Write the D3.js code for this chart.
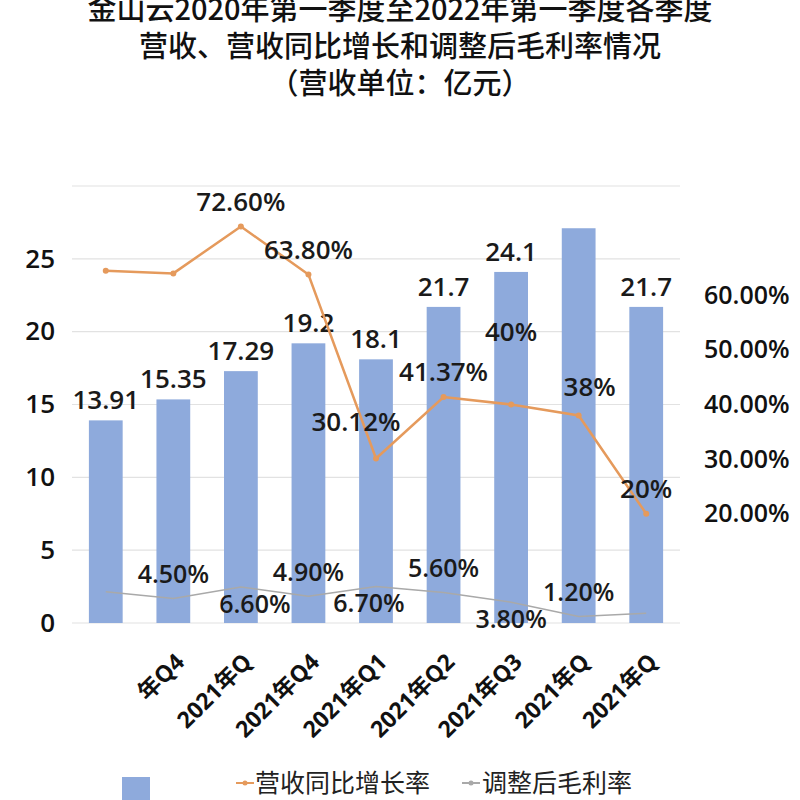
<!DOCTYPE html>
<html>
<head>
<meta charset="utf-8">
<script src="https://cdn.jsdelivr.net/npm/d3@7"></script>
<style>
  body { margin: 0; background: #fff; }
  text { font-family: "Open Sans", "Noto Sans", "Noto Sans CJK SC", sans-serif; }
</style>
</head>
<body>
<script>
// quarters 2020Q1 .. 2022Q1
const quarters = ["2020Q1", "2020Q2", "2020Q3", "2020Q4", "2021Q1", "2021Q2", "2021Q3", "2021Q4", "2022Q1"];
// tick labels as they appear in the picture (first one is cut off)
const tickLabels = ["", "年Q4", "2021年Q", "2021年Q4", "2021年Q1", "2021年Q2", "2021年Q3", "2021年Q", "2021年Q"];
// 营收 (亿元)
const revenue = [13.91, 15.35, 17.29, 19.2, 18.1, 21.7, 24.1, 27.1, 21.7];
const revenueLabels = ["13.91", "15.35", "17.29", "19.2", "18.1", "21.7", "24.1", "", "21.7"];
// 营收同比增长率
const growth = [0.645, 0.64, 0.726, 0.638, 0.3012, 0.4137, 0.40, 0.38, 0.20];
const growthLabels = ["", "", "72.60%", "63.80%", "30.12%", "41.37%", "40%", "38%", "20%"];
// 调整后毛利率
const margin = [0.057, 0.045, 0.066, 0.049, 0.067, 0.056, 0.038, 0.012, 0.018];
const marginLabels = ["", "4.50%", "6.60%", "4.90%", "6.70%", "5.60%", "3.80%", "1.20%", ""];
// axis ticks
const leftTicks = [0, 5, 10, 15, 20, 25];
const gridTicks = [0, 5, 10, 15, 20, 25, 30];
const rightTicks = [0.2, 0.3, 0.4, 0.5, 0.6];

const titleLines = ["金山云2020年第一季度至2022年第一季度各季度", "营收、营收同比增长和调整后毛利率情况", "（营收单位：亿元）"];

const width = 800, height = 800;
const barColor = "#8eaadc", lineColor = "#e59a5c", grayColor = "#a9a9a9";

const svg = d3.select("body").append("svg").attr("width", width).attr("height", height);

// title
svg.append("g").selectAll("text").data(titleLines).enter().append("text")
  .attr("x", 400).attr("y", (d, i) => [20, 57, 94][i])
  .attr("text-anchor", "middle")
  .style("font-family", "'Noto Sans CJK SC', sans-serif")
  .style("font-size", "29px")
  .style("font-weight", 500)
  .attr("fill", "#111").text(d => d);

// scales
const x = d3.scaleBand().domain(quarters).range([72, 680]).paddingInner(0.5).paddingOuter(0.25);
const y = d3.scaleLinear().domain([0, 30]).range([623, 186]);
const y2 = d3.scaleLinear().domain([0, 0.8]).range([623, 186]);
const cx = d => x(d) + x.bandwidth() / 2;

// gridlines
svg.append("g").selectAll("line").data(gridTicks).enter().append("line")
  .attr("x1", 72).attr("x2", 680).attr("y1", d => y(d)).attr("y2", d => y(d))
  .attr("stroke", "#e2e2e2").attr("stroke-width", 1.2);

// left axis
const leftAxis = svg.append("g").attr("transform", "translate(55,0)")
  .call(d3.axisLeft(y).tickValues(leftTicks).tickSize(0).tickPadding(0));
leftAxis.select(".domain").remove();
leftAxis.selectAll("text").style("font-size", "26px").style("font-weight", 600).attr("fill", "#111");

// right axis
const rightAxis = svg.append("g").attr("transform", "translate(704,0)")
  .call(d3.axisRight(y2).tickValues(rightTicks).tickSize(0).tickPadding(0).tickFormat(d3.format(".2%")));
rightAxis.select(".domain").remove();
rightAxis.selectAll("text").style("font-size", "25px").style("font-weight", 600).attr("fill", "#111");

// bars
svg.append("g").selectAll("rect").data(quarters).enter().append("rect")
  .attr("x", d => x(d)).attr("width", x.bandwidth())
  .attr("y", (d, i) => y(revenue[i])).attr("height", (d, i) => y(0) - y(revenue[i]))
  .attr("fill", barColor);

// bar labels
svg.append("g").selectAll("text").data(quarters).enter().append("text")
  .attr("x", d => cx(d)).attr("y", (d, i) => y(revenue[i]) - 11)
  .attr("text-anchor", "middle")
  .style("font-size", "26px").style("font-weight", 600).attr("fill", "#1a1a1a")
  .text((d, i) => revenueLabels[i]);

// x axis
const xAxis = svg.append("g").attr("transform", "translate(0,640)")
  .call(d3.axisBottom(x).tickSize(0).tickPadding(0).tickFormat((d, i) => tickLabels[i]));
xAxis.select(".domain").remove();
xAxis.selectAll("text")
  .attr("text-anchor", "end").attr("dy", "0.7em")
  .attr("transform", "translate(1,12) rotate(-45)")
  .style("font-size", "23px").style("font-weight", 700).attr("fill", "#111");

// lines
const lineFor = arr => d3.line().x(d => cx(d)).y((d, i) => y2(arr[i]));

svg.append("path").datum(quarters).attr("d", lineFor(margin))
  .attr("fill", "none").attr("stroke", grayColor).attr("stroke-width", 1.5);

svg.append("path").datum(quarters).attr("d", lineFor(growth))
  .attr("fill", "none").attr("stroke", lineColor).attr("stroke-width", 2.5);
svg.append("g").selectAll("circle").data(quarters).enter().append("circle")
  .attr("cx", d => cx(d)).attr("cy", (d, i) => y2(growth[i])).attr("r", 3)
  .attr("fill", lineColor);

// growth labels, placed above the points (a few nudged like in the picture)
const growthNudge = { 4: [-20, -37], 6: [0, -73], 7: [11, -29] };
svg.append("g").selectAll("text").data(quarters).enter().append("text")
  .attr("x", (d, i) => cx(d) + (growthNudge[i] ? growthNudge[i][0] : 0))
  .attr("y", (d, i) => y2(growth[i]) + (growthNudge[i] ? growthNudge[i][1] : -25))
  .attr("dy", "0.35em").attr("text-anchor", "middle")
  .style("font-size", "26px").style("font-weight", 600).attr("fill", "#1a1a1a")
  .text((d, i) => growthLabels[i]);

// margin labels, alternating above / below
const marginNudge = { 2: 14, 4: -7 };
svg.append("g").selectAll("text").data(quarters).enter().append("text")
  .attr("x", (d, i) => cx(d) + (marginNudge[i] || 0))
  .attr("y", (d, i) => y2(margin[i]) + (i % 2 === 1 ? -24 : 17))
  .attr("dy", "0.35em").attr("text-anchor", "middle")
  .style("font-size", "25px").style("font-weight", 600).attr("fill", "#1a1a1a")
  .text((d, i) => marginLabels[i]);

// legend
const legend = svg.append("g").attr("transform", "translate(0,783)");
legend.append("rect").attr("x", 122).attr("y", -6).attr("width", 28).attr("height", 23).attr("fill", barColor);
legend.append("line").attr("x1", 236).attr("x2", 254).attr("y1", 0).attr("y2", 0).attr("stroke", lineColor).attr("stroke-width", 2);
legend.append("circle").attr("cx", 245).attr("cy", 0).attr("r", 2.5).attr("fill", lineColor);
legend.append("text").attr("x", 255).attr("y", 0).attr("dy", "0.35em")
  .style("font-family", "'Noto Sans CJK SC', sans-serif").style("font-size", "25px")
  .attr("fill", "#222").text("营收同比增长率");
legend.append("line").attr("x1", 462).attr("x2", 480).attr("y1", 0).attr("y2", 0).attr("stroke", grayColor).attr("stroke-width", 2);
legend.append("circle").attr("cx", 471).attr("cy", 0).attr("r", 2.5).attr("fill", grayColor);
legend.append("text").attr("x", 482).attr("y", 0).attr("dy", "0.35em")
  .style("font-family", "'Noto Sans CJK SC', sans-serif").style("font-size", "25px")
  .attr("fill", "#222").text("调整后毛利率");
</script>
</body>
</html>
